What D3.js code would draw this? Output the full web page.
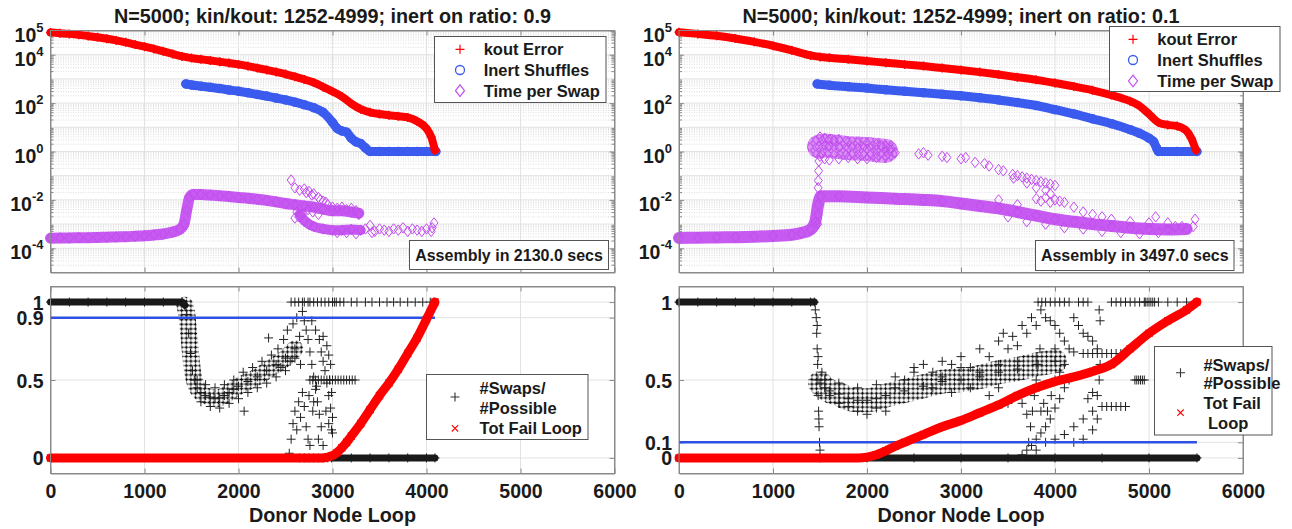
<!DOCTYPE html>
<html><head><meta charset="utf-8">
<script src="https://cdn.jsdelivr.net/npm/d3@7"></script>
<style>
body{margin:0;background:#fff;}
svg text{font-family:"Liberation Sans",Arial,Helvetica,sans-serif;font-weight:bold;fill:#1a1a1a;}
</style></head><body>
<svg id="c" width="1292" height="529"></svg>
<script>
// ---------------- DATA ----------------
const xTickValues = [0,1000,2000,3000,4000,5000,6000];
const logTickValues = [1e5,1e4,1e2,1,1e-2,1e-4];
const ratioTicksLeft = [0,0.5,0.9,1];
const ratioTicksRight = [0,0.1,0.5,1];
const titles = ["N=5000; kin/kout: 1252-4999; inert on ratio: 0.9","N=5000; kin/kout: 1252-4999; inert on ratio: 0.1"];
const assemblyText = ["Assembly in 2130.0 secs","Assembly in 3497.0 secs"];
const inertOnRatio = [0.9, 0.1];
const lastLoop = [4090, 5510];
const topLegendLabels = ["kout Error","Inert Shuffles","Time per Swap"];
const bottomLegendLabelsL = [["#Swaps/","#Possible"],["Tot Fail Loop"]];
const bottomLegendLabelsR = [["#Swaps/","#Possible"],["Tot Fail"," Loop"]];
const xLabel = "Donor Node Loop";

// log10 values, [loop, log10(value)]
const koutErrL = [[0,4.92],[100,4.89],[200,4.86],[300,4.82],[400,4.77],[500,4.72],[600,4.66],[700,4.59],[800,4.51],[900,4.42],[1000,4.33],[1100,4.24],[1200,4.14],[1300,4.03],[1400,3.93],[1500,3.86],[1600,3.81],[1700,3.76],[1800,3.71],[1900,3.66],[2000,3.60],[2100,3.53],[2200,3.45],[2300,3.37],[2400,3.29],[2500,3.20],[2600,3.09],[2700,2.98],[2800,2.85],[2900,2.67],[3000,2.48],[3100,2.27],[3200,1.98],[3300,1.75],[3400,1.62],[3500,1.55],[3600,1.50],[3700,1.46],[3800,1.41],[3900,1.25],[4000,0.95],[4050,0.6],[4090,0.05]];
const inertL = [[1440,2.79],[1500,2.75],[1600,2.7],[1700,2.65],[1800,2.6],[1900,2.54],[2000,2.49],[2100,2.43],[2200,2.36],[2300,2.29],[2400,2.21],[2500,2.13],[2600,2.04],[2700,1.93],[2800,1.81],[2900,1.62],[3000,1.2],[3050,0.95],[3100,0.85],[3150,0.8],[3200,0.55],[3250,0.4],[3300,0.33],[3350,0.15],[3400,0],[3500,0],[3600,0],[3700,0],[3800,0],[3900,0],[4000,0],[4100,0]];
const timeL = [[0,-3.58],[100,-3.57],[200,-3.57],[300,-3.56],[400,-3.56],[500,-3.55],[600,-3.54],[700,-3.53],[800,-3.52],[900,-3.5],[1000,-3.48],[1100,-3.45],[1200,-3.41],[1300,-3.33],[1380,-3.2],[1420,-3.0],[1450,-2.4],[1480,-1.9],[1520,-1.78],[1600,-1.78],[1700,-1.8],[1800,-1.83],[1900,-1.86],[2000,-1.9],[2100,-1.93],[2200,-1.97],[2300,-2.02],[2400,-2.08],[2500,-2.15],[2600,-2.2],[2700,-2.25],[2800,-2.3],[2900,-2.38],[3000,-2.45],[3100,-2.45],[3200,-2.5],[3280,-2.55]];
const timeLowL = [[2650,-2.6],[2700,-2.85],[2750,-3.0],[2800,-3.1],[2900,-3.2],[3000,-3.25],[3100,-3.25],[3200,-3.22],[3300,-3.25]];
const timeScatterL = [[2560,-1.18],[2600,-1.5],[2650,-1.6],[2700,-1.55],[2720,-1.7],[2750,-1.65],[2780,-1.8],[2800,-1.75],[2850,-1.9],[2870,-2.0],[2900,-2.05],[2930,-2.1],[2950,-2.2],[3000,-2.3],[3050,-2.35],[3100,-2.3],[3150,-2.4],[3200,-2.35],[3250,-2.45],[3280,-2.6],[2620,-2.5],[2640,-2.7],[2680,-2.6],[2740,-2.4],[2790,-2.5],[2850,-2.6],[2600,-2.75],[3350,-3.2],[3400,-3.05],[3450,-3.3],[3500,-3.2],[3550,-3.25],[3600,-3.3],[3650,-3.2],[3700,-3.25],[3750,-3.15],[3800,-3.3],[3850,-3.2],[3900,-3.25],[3950,-3.3],[4000,-3.2],[4050,-3.3],[4080,-2.95],[4060,-3.15],[3420,-3.35],[3250,-3.4],[3150,-3.35],[3050,-3.35]];

const koutErrR = [[0,4.93],[200,4.86],[400,4.78],[600,4.67],[800,4.53],[1000,4.37],[1200,4.18],[1400,3.97],[1500,3.91],[1600,3.87],[1800,3.81],[2000,3.74],[2200,3.67],[2400,3.6],[2600,3.53],[2800,3.45],[3000,3.37],[3200,3.28],[3400,3.18],[3600,3.07],[3800,2.96],[4000,2.83],[4200,2.69],[4400,2.53],[4600,2.33],[4800,2.08],[4900,1.88],[5000,1.55],[5100,1.2],[5200,1.1],[5300,1.05],[5400,0.85],[5450,0.55],[5500,0.05]];
const inertR = [[1470,2.79],[1600,2.74],[1800,2.68],[2000,2.62],[2200,2.55],[2400,2.49],[2600,2.43],[2800,2.37],[3000,2.3],[3200,2.22],[3400,2.13],[3600,2.02],[3800,1.9],[4000,1.73],[4200,1.55],[4400,1.35],[4600,1.15],[4800,0.9],[4900,0.75],[5000,0.55],[5050,0.4],[5080,0.15],[5100,0],[5300,0],[5510,0]];
const timeR = [[0,-3.57],[200,-3.56],[400,-3.55],[600,-3.54],[800,-3.52],[1000,-3.49],[1200,-3.44],[1300,-3.37],[1400,-3.22],[1450,-2.9],[1480,-2.2],[1510,-1.85],[1700,-1.85],[2000,-1.9],[2300,-1.95],[2600,-2.0],[2800,-2.05],[3000,-2.15],[3200,-2.25],[3400,-2.35],[3600,-2.5],[3800,-2.65],[4000,-2.8],[4200,-2.9],[4400,-3.0],[4600,-3.08],[4800,-3.15],[5000,-3.2],[5200,-3.22],[5400,-3.2]];
const timeHighR = [[1490,0.2],[1550,0.25],[1600,0.23],[1700,0.18],[1800,0.14],[1900,0.12],[2000,0.1],[2100,0.06],[2200,0.02]];
const timeScatterR = [[1475,-3.0],[1478,-2.6],[1480,-1.5],[1482,-1.2],[1485,-0.8],[1488,-0.4],[1500,0.6],[1550,0.55],[1600,0.5],[1650,0.45],[1700,0.5],[1800,0.4],[1900,0.35],[2000,0.35],[2100,0.3],[2150,0.25],[2200,0.2],[1500,-0.2],[1550,-0.3],[1600,-0.35],[1700,-0.3],[1800,-0.25],[1900,-0.3],[2000,-0.3],[2100,-0.25],[2200,-0.2],[2250,0.15],[2250,0.05],[2300,-0.05],[2550,-0.1],[2600,-0.05],[2650,-0.15],[2800,-0.2],[2850,-0.25],[3000,-0.3],[3050,-0.25],[3150,-0.45],[3250,-0.5],[3300,-0.6],[3400,-0.75],[3450,-0.8],[3550,-0.95],[3600,-1.0],[3650,-1.05],[3700,-1.1],[3750,-1.15],[3800,-1.2],[3850,-1.25],[3900,-1.3],[3950,-1.35],[4000,-1.4],[3560,-1.1],[3700,-1.3],[3800,-1.5],[3900,-1.6],[3950,-1.75],[4000,-2.0],[4050,-2.05],[4100,-2.1],[3800,-1.95],[3850,-2.05],[3900,-1.9],[3950,-2.1],[4200,-2.3],[4300,-2.5],[4400,-2.6],[4500,-2.7],[3400,-2.0],[3500,-2.7],[3600,-2.2],[3700,-2.9],[3900,-3.0],[4100,-3.15],[4300,-3.2],[4500,-3.3],[4700,-3.35],[4900,-3.4],[5100,-3.35],[4600,-2.8],[4800,-2.9],[5000,-2.95],[5071,-2.7],[5200,-2.95],[5280,-3.1],[5350,-3.1],[5470,-3.1],[5490,-2.8]];

// swaps ratio and tot fail loop (linear)
const swapsTopL = [[0,1],[200,1],[400,1],[600,1],[800,1],[1000,1],[1200,1],[1400,1],[1430,0.98]];
const swapsL = [[1430,0.98],[1450,0.92],[1470,0.8],[1490,0.67],[1510,0.56],[1530,0.5],[1560,0.45],[1600,0.42],[1650,0.4],[1700,0.39],[1750,0.38],[1800,0.385],[1850,0.4],[1900,0.42],[1950,0.44],[2000,0.46],[2100,0.49],[2200,0.52],[2300,0.56],[2400,0.6],[2500,0.64],[2600,0.7]];
const swapsZeroL = [[2990,0],[3200,0],[3400,0],[3600,0],[3800,0],[4000,0],[4090,0]];
const swapsScatterL = [[1560,0.5],[1600,0.36],[1650,0.47],[1700,0.33],[1750,0.45],[1800,0.32],[1850,0.47],[1900,0.35],[1950,0.5],[2000,0.38],[2050,0.55],[2060,0.3],[2100,0.42],[2150,0.58],[2200,0.45],[2250,0.62],[2300,0.48],[2320,0.77],[2350,0.66],[2400,0.52],[2420,0.7],[2450,0.58],[2480,0.76],[2500,0.56],[2520,0.82],[2550,0.62],[2580,0.86],[2600,0.64],[2620,0.9],[2650,0.78],[2680,0.94],[2700,0.88],[2660,0.6],[2540,0.03],[2560,0.12],[2580,0.22],[2600,0.3],[2620,0.18],[2640,0.36],[2660,0.26],[2680,0.42],[2700,0.33],[2720,0.2],[2740,0.12],[2760,0.08],[2720,0.82],[2740,0.76],[2760,0.68],[2780,0.6],[2800,0.52],[2820,0.44],[2840,0.36],[2860,0.28],[2880,0.2],[2780,0.88],[2820,0.82],[2860,0.76],[2880,0.68],[2900,0.62],[2920,0.56],[2940,0.48],[2960,0.4],[2980,0.32],[3000,0.26],[2900,0.78],[2940,0.72],[2960,0.66],[2980,0.6],[2970,0.5],[2990,0.42],[2930,0.3],[2960,0.22],[2990,0.18],[3000,0.16],[2850,0.12],[2900,0.08],[2750,0.4],[2790,0.3],[2800,0.36],[2830,0.46],[2560,1],[2600,1],[2640,1],[2680,1],[2700,1],[2740,1],[2760,1],[2800,1],[2840,1],[2880,1],[2920,1],[2960,1],[3000,1],[3020,1],[3040,1],[3080,1],[3120,1],[3200,1],[3260,1],[3350,1],[3420,1],[3500,1],[3580,1],[3650,1],[3720,1],[3800,1],[3880,1],[3960,1],[4040,1],[4080,1],[2760,0.5],[2790,0.5],[2820,0.5],[2850,0.5],[2880,0.5],[2910,0.5],[2940,0.5],[2970,0.5],[3000,0.5],[3030,0.5],[3060,0.5],[3090,0.5],[3120,0.5],[3150,0.5],[3180,0.5],[3210,0.5],[3240,0.5],[2650,0],[2700,0],[2750,0],[2800,0],[2850,0],[2900,0],[2950,0]];
const failL = [[0,0],[500,0],[1000,0],[1500,0],[2000,0],[2500,0],[2900,0],[2950,0.005],[3000,0.015],[3050,0.035],[3100,0.065],[3150,0.1],[3200,0.14],[3300,0.22],[3400,0.31],[3500,0.4],[3600,0.48],[3700,0.57],[3800,0.67],[3900,0.77],[4000,0.89],[4090,1.0]];

const swapsTopR = [[0,1],[200,1],[400,1],[600,1],[800,1],[1000,1],[1200,1],[1400,1],[1440,1]];
const swapsR = [[1500,0.48],[1550,0.45],[1600,0.43],[1700,0.41],[1800,0.38],[1900,0.37],[2000,0.37],[2100,0.38],[2200,0.4],[2400,0.43],[2600,0.46],[2800,0.49],[3000,0.5],[3200,0.52],[3400,0.55],[3600,0.57],[3800,0.6],[4000,0.62]];
const swapsZeroR = [[1500,0],[2000,0],[2500,0],[3000,0],[3500,0],[4000,0],[4500,0],[5000,0],[5510,0]];
const swapsScatterR = [[1450,0.95],[1460,0.9],[1465,0.8],[1470,0.7],[1475,0.6],[1478,0.5],[1480,0.4],[1485,0.3],[1490,0.2],[1495,0.1],[1500,0.05],[1470,0.85],[1480,0.65],[1488,0.25],[2500,0.55],[2600,0.6],[2700,0.55],[2800,0.62],[2900,0.6],[3000,0.65],[3100,0.58],[3200,0.7],[3300,0.65],[3400,0.75],[3450,0.8],[3500,0.7],[3550,0.78],[3600,0.72],[3650,0.85],[3700,0.8],[3750,0.9],[3800,0.85],[3850,0.95],[3900,0.9],[3950,0.88],[4000,0.85],[4050,0.8],[4100,0.75],[4150,0.7],[4200,0.9],[4250,0.85],[4300,0.8],[4350,0.78],[4400,0.75],[4450,0.7],[4480,0.6],[3650,0.02],[3700,0.05],[3720,0.1],[3740,0.2],[3760,0.3],[3780,0.4],[3800,0.5],[3820,0.6],[3840,0.7],[3700,0.28],[3650,0.35],[3750,0.08],[3800,0.12],[3850,0.16],[3900,0.2],[3950,0.25],[4000,0.32],[4050,0.38],[4100,0.45],[4150,0.5],[3800,0.05],[3900,0.1],[4000,0.12],[4100,0.15],[4200,0.2],[4300,0.25],[4400,0.3],[4450,0.4],[4470,0.5],[4200,0.1],[4300,0.12],[4400,0.18],[4450,0.25],[4480,0.88],[4470,0.95],[4400,0.42],[4350,0.38],[3920,0.3],[3960,0.4],[4000,0.5],[4050,0.55],[4100,0.6],[3850,0.3],[3880,0.35],[3600,0.4],[3500,0.35],[3400,0.45],[3300,0.4],[3100,0.45],[2900,0.42],[2700,0.45],[2400,0.5],[2300,0.45],[2200,0.3],[2100,0.32],[2000,0.28],[1900,0.3],[1800,0.33],[1700,0.35],[1600,0.4],[1550,0.5],[1520,0.55],[1700,0.48],[1900,0.45],[2100,0.47],[2300,0.52],[2500,0.58],[2800,0.52],[3000,0.58],[3200,0.55],[3400,0.6],[3600,0.62],[3800,0.65],[4000,0.7],[4200,0.68],[3820,1],[3860,1],[3900,1],[3950,1],[4000,1],[4050,1],[4100,1],[4150,1],[4250,1],[4300,1],[4350,1],[4600,1],[4650,1],[4700,1],[4750,1],[4800,1],[4850,1],[4900,1],[4950,1],[4960,1],[4980,1],[5000,1],[5020,1],[5040,1],[5060,1],[5100,1],[5200,1],[5300,1],[5400,1],[5500,1],[4300,0.67],[4350,0.67],[4400,0.67],[4450,0.67],[4500,0.67],[4550,0.67],[4600,0.67],[4650,0.67],[4700,0.67],[4730,0.67],[4850,0.5],[4870,0.5],[4890,0.5],[4910,0.5],[4930,0.5],[4950,0.5],[4500,0.33],[4550,0.33],[4600,0.33],[4650,0.33],[4700,0.33],[4750,0.33]];
const failR = [[0,0],[500,0],[1000,0],[1500,0],[1900,0],[2000,0.005],[2100,0.02],[2200,0.045],[2300,0.075],[2400,0.1],[2600,0.15],[2800,0.2],[3000,0.24],[3200,0.29],[3400,0.34],[3600,0.4],[3800,0.45],[4000,0.49],[4200,0.52],[4400,0.555],[4600,0.6],[4800,0.7],[5000,0.8],[5200,0.88],[5400,0.95],[5510,1.0]];

// ---------------- LAYOUT ----------------
const svg = d3.select("#c");
const C = {red:"#ff0000", blue:"#3b5bef", mag:"#c24cef", blk:"#1a1a1a", axis:"#8a8a8a", grid:"#e2e2e2"};

// marker-texture patterns for dense point clouds
const defs = svg.append("defs");
const pp = defs.append("pattern").attr("id","pPlus").attr("width",4.6).attr("height",4.6).attr("patternUnits","userSpaceOnUse");
pp.append("path").attr("d","M0.4,2.3H4.2M2.3,0.4V4.2").attr("stroke","#111").attr("stroke-width",1.2).attr("fill","none");
const pd = defs.append("pattern").attr("id","pDiam").attr("width",6).attr("height",7).attr("patternUnits","userSpaceOnUse");
pd.append("rect").attr("width",6).attr("height",7).attr("fill","#d68af4");
pd.append("path").attr("d","M3,0.5L5.5,3.5L3,6.5L0.5,3.5Z").attr("stroke",C.mag).attr("stroke-width",1.2).attr("fill","none");

const panels = [
  {x0:50.5, x1:614.5, legT:{x:434.5,y:36.5,w:171.5,h:66,mx:460,tx:483.7,ys:[49.3,70,90.7]},
   asm:{x:409.5,y:240.5,w:199,h:29},
   legB:{x:426.5,y:374.5,w:161.5,h:65,mx:455,tx:479.6,lines:[[388.3,408.3],[428.3]],my:[397,428.3]},
   ratioTicks:ratioTicksLeft, labelsB:bottomLegendLabelsL,
   kout:koutErrL, inert:inertL, time:[timeL,timeLowL], timeW:[11,10], timeFill:[C.mag,C.mag], timeSc:timeScatterL,
   swapsThin:[swapsTopL, swapsZeroL], swapsThick:[swapsL], thickW:17, swapsSc:swapsScatterL, fail:failL},
  {x0:679, x1:1243, legT:{x:1109.5,y:26.5,w:170.5,h:65,mx:1133,tx:1157.3,ys:[39.3,60,81]},
   asm:{x:1035.5,y:240.5,w:198.5,h:30},
   legB:{x:1154.5,y:346.5,w:117.5,h:88.5,mx:1180.5,tx:1203.4,lines:[[365,383.3],[403.3,423.3]],my:[372.7,412.7]},
   ratioTicks:ratioTicksRight, labelsB:bottomLegendLabelsR,
   kout:koutErrR, inert:inertR, time:[timeR,timeHighR], timeW:[12,24], timeFill:[C.mag,"url(#pDiam)"], timeSc:timeScatterR,
   swapsThin:[swapsTopR, swapsZeroR], swapsThick:[swapsR], thickW:24, swapsSc:swapsScatterR, fail:failR}
];
const topY = [272.5, 30.5], botY = [473.5, 286.5];

const plusP = s => `M${-s},0H${s}M0,${-s}V${s}`;
const crossP = s => `M${-s},${-s}L${s},${s}M${-s},${s}L${s},${-s}`;
const diamP = s => `M0,${-s*1.3}L${s},0L0,${s*1.3}L${-s},0Z`;

function band(g, data, x, y, f, color, w, op){
  const line = d3.line().x(d=>x(d[0])).y(d=>y(f(d[1]))).curve(d3.curveMonotoneX);
  g.append("path").attr("d", line(data)).attr("fill","none").attr("stroke",color)
   .attr("stroke-width",w).attr("stroke-linejoin","round").attr("stroke-linecap","round").attr("opacity",op||1);
}
function marks(g, data, x, y, f, type, color, sw){
  g.selectAll(null).data(data).enter().append(type==="circle"?"circle":"path")
    .each(function(d){
      const el = d3.select(this), px = x(d[0]), py = y(f(d[1]));
      if(type==="circle") el.attr("cx",px).attr("cy",py).attr("r",4);
      else el.attr("transform",`translate(${px},${py})`).attr("d", type==="plus"?plusP(4.5):type==="cross"?crossP(3.5):diamP(4));
    })
    .attr("fill","none").attr("stroke",color).attr("stroke-width",sw);
}
const pow10 = v => Math.pow(10, v), ident = v => v;

panels.forEach((P, i) => {
  const x = d3.scaleLinear().domain([0,6000]).range([P.x0, P.x1]);
  const yT = d3.scaleLog().domain([1e-5,1e5]).range(topY);
  const yB = d3.scaleLinear().domain([-0.1,1.1]).range(botY);
  const g = svg.append("g");

  // ---- grids
  const gg = g.append("g");
  for(let k=-5;k<5;k++) for(let m=2;m<=9;m++){
    const yy = yT(m*Math.pow(10,k));
    gg.append("line").attr("x1",P.x0).attr("x2",P.x1).attr("y1",yy).attr("y2",yy)
      .attr("stroke","#d4d4d4").attr("stroke-width",0.8).attr("stroke-dasharray","1,1.5");
  }
  [1e4,1e3,1e2,1e1,1,1e-1,1e-2,1e-3,1e-4].forEach(v=>{
    gg.append("line").attr("x1",P.x0).attr("x2",P.x1).attr("y1",yT(v)).attr("y2",yT(v)).attr("stroke",C.grid);
  });
  xTickValues.slice(1,-1).forEach(v=>{
    gg.append("line").attr("x1",x(v)).attr("x2",x(v)).attr("y1",topY[1]).attr("y2",topY[0]).attr("stroke",C.grid);
    gg.append("line").attr("x1",x(v)).attr("x2",x(v)).attr("y1",botY[1]).attr("y2",botY[0]).attr("stroke",C.grid);
  });
  P.ratioTicks.forEach(v=>{
    gg.append("line").attr("x1",P.x0).attr("x2",P.x1).attr("y1",yB(v)).attr("y2",yB(v)).attr("stroke",C.grid);
  });

  // ---- axes top
  const fmtNone = () => "";
  g.append("g").attr("transform",`translate(0,${topY[0]})`).call(d3.axisBottom(x).tickValues(xTickValues).tickSize(-5).tickSizeOuter(0).tickFormat(fmtNone));
  g.append("g").attr("transform",`translate(0,${topY[1]})`).call(d3.axisTop(x).tickValues(xTickValues).tickSize(-5).tickSizeOuter(0).tickFormat(fmtNone));
  const axL = g.append("g").attr("transform",`translate(${P.x0},0)`).call(d3.axisLeft(yT).tickValues(logTickValues).tickSize(-5).tickSizeOuter(0).tickPadding(12));
  g.append("g").attr("transform",`translate(${P.x1},0)`).call(d3.axisRight(yT).tickValues(logTickValues).tickSize(-5).tickSizeOuter(0).tickFormat(fmtNone));
  axL.selectAll(".tick text").each(function(d){
    const t = d3.select(this); t.text(null).attr("dy",null).attr("y",10.5).attr("x",-7);
    t.append("tspan").text("10");
    t.append("tspan").attr("dy",-10).attr("font-size","13px").text(String(Math.round(Math.log10(d))));
  });
  for(let k=-5;k<5;k++) for(let m=2;m<=9;m++){
    const yy = yT(m*Math.pow(10,k));
    g.append("line").attr("x1",P.x0).attr("x2",P.x0+3).attr("y1",yy).attr("y2",yy).attr("stroke",C.axis);
    g.append("line").attr("x1",P.x1-3).attr("x2",P.x1).attr("y1",yy).attr("y2",yy).attr("stroke",C.axis);
  }
  // ---- axes bottom
  const axB = g.append("g").attr("transform",`translate(0,${botY[0]})`).call(d3.axisBottom(x).tickValues(xTickValues).tickSize(-5).tickSizeOuter(0).tickPadding(12).tickFormat(d3.format("d")));
  axB.selectAll(".tick text").attr("dy",null).attr("y",24.5);
  g.append("g").attr("transform",`translate(0,${botY[1]})`).call(d3.axisTop(x).tickValues(xTickValues).tickSize(-5).tickSizeOuter(0).tickFormat(fmtNone));
  const axBL = g.append("g").attr("transform",`translate(${P.x0},0)`).call(d3.axisLeft(yB).tickValues(P.ratioTicks).tickSize(-5).tickSizeOuter(0).tickFormat(d=>String(d)));
  axBL.selectAll(".tick text").attr("x",-7).attr("dy","0.36em");
  g.append("g").attr("transform",`translate(${P.x1},0)`).call(d3.axisRight(yB).tickValues(P.ratioTicks).tickSize(-5).tickSizeOuter(0).tickFormat(fmtNone));
  g.selectAll(".domain").attr("stroke",C.axis);
  g.selectAll(".tick line").attr("stroke",C.axis);
  g.selectAll(".tick text").attr("font-size",null).style("font-size","19.5px").attr("fill","#1a1a1a");
  g.selectAll("g").attr("font-family",null).attr("font-size",null);

  // ---- top series
  const s = g.append("g");
  band(s, P.inert, x, yT, pow10, C.blue, 9);
  marks(s, P.inert, x, yT, pow10, "circle", C.blue, 1.5);
  band(s, P.kout, x, yT, pow10, C.red, 8);
  marks(s, P.kout, x, yT, pow10, "plus", C.red, 1.5);
  P.time.forEach((t,j)=>{ band(s, t, x, yT, pow10, P.timeFill[j], P.timeW[j], 0.92); marks(s, t, x, yT, pow10, "diamond", C.mag, 1); });
  marks(s, P.timeSc, x, yT, pow10, "diamond", C.mag, 1);

  // ---- bottom series
  const b = g.append("g");
  P.swapsThin.forEach(t=>{ band(b, t, x, yB, ident, C.blk, 7); marks(b, t, x, yB, ident, "plus", C.blk, 1); });
  P.swapsThick.forEach(t=>{ band(b, t, x, yB, ident, "url(#pPlus)", P.thickW, 1); marks(b, t, x, yB, ident, "plus", C.blk, 1); });
  marks(b, P.swapsSc, x, yB, ident, "plus", "#222", 1);
  b.append("line").attr("x1",x(0)).attr("x2",x(lastLoop[i])).attr("y1",yB(inertOnRatio[i])).attr("y2",yB(inertOnRatio[i]))
    .attr("stroke","#2f50e6").attr("stroke-width",2.5);
  band(b, P.fail, x, yB, ident, C.red, 9);
  marks(b, P.fail, x, yB, ident, "cross", C.red, 1.5);

  // ---- frames
  [[topY[1],topY[0]],[botY[1],botY[0]]].forEach(([a,c])=>{
    g.append("rect").attr("x",P.x0).attr("y",a).attr("width",P.x1-P.x0).attr("height",c-a).attr("fill","none").attr("stroke",C.axis);
  });

  // ---- title & x label
  const cx = (P.x0+P.x1)/2;
  g.append("text").attr("x",cx).attr("y",23).attr("text-anchor","middle").style("font-size","19.8px").text(titles[i]);
  g.append("text").attr("x",cx).attr("y",522).attr("text-anchor","middle").style("font-size","19.8px").text(xLabel);

  // ---- top legend
  const L = P.legT;
  g.append("rect").attr("x",L.x).attr("y",L.y).attr("width",L.w).attr("height",L.h).attr("fill","#fff").attr("stroke","#555");
  const legTypes = [["plus",C.red],["circle",C.blue],["diamond",C.mag]];
  topLegendLabels.forEach((lab,j)=>{
    const [tp,col] = legTypes[j];
    if(tp==="circle") g.append("circle").attr("cx",L.mx).attr("cy",L.ys[j]).attr("r",4.5).attr("fill","none").attr("stroke",col).attr("stroke-width",1.3);
    else g.append("path").attr("transform",`translate(${L.mx},${L.ys[j]})`).attr("d",tp==="plus"?plusP(4.5):diamP(4.5)).attr("fill","none").attr("stroke",col).attr("stroke-width",1.2);
    g.append("text").attr("x",L.tx).attr("y",L.ys[j]).attr("dy","0.36em").style("font-size","16.5px").text(lab);
  });

  // ---- assembly box
  const A = P.asm;
  g.append("rect").attr("x",A.x).attr("y",A.y).attr("width",A.w).attr("height",A.h).attr("fill","#fff").attr("stroke","#555");
  g.append("text").attr("x",A.x+A.w/2).attr("y",A.y+A.h/2).attr("dy","0.36em").attr("text-anchor","middle").style("font-size","16px").text(assemblyText[i]);

  // ---- bottom legend
  const B = P.legB;
  g.append("rect").attr("x",B.x).attr("y",B.y).attr("width",B.w).attr("height",B.h).attr("fill","#fff").attr("stroke","#555");
  g.append("path").attr("transform",`translate(${B.mx},${B.my[0]})`).attr("d",plusP(4.5)).attr("fill","none").attr("stroke","#333").attr("stroke-width",1.1);
  g.append("path").attr("transform",`translate(${B.mx},${B.my[1]})`).attr("d",crossP(3.2)).attr("fill","none").attr("stroke",C.red).attr("stroke-width",1.1);
  P.labelsB.forEach((lines,j)=>lines.forEach((ln,k)=>{
    g.append("text").attr("x",B.tx).attr("y",B.lines[j][k]).attr("dy","0.36em").style("white-space","pre").style("font-size","16.5px").text(ln);
  }));
});
</script></body></html>
